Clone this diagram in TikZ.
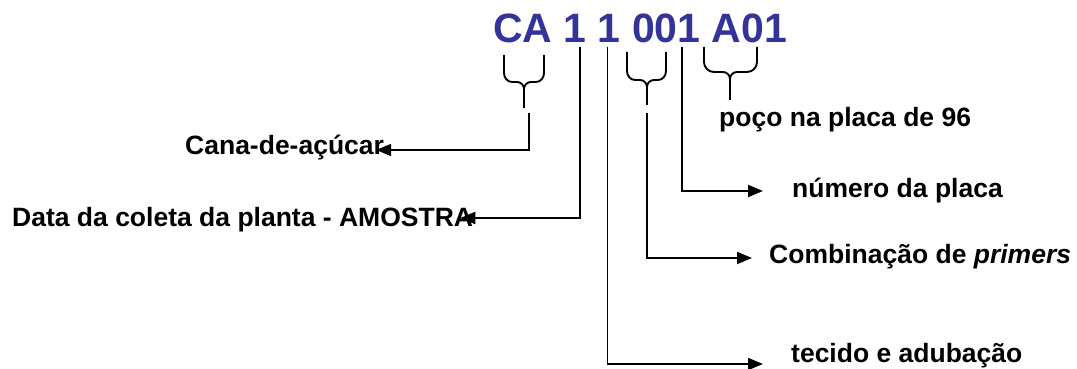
\documentclass[tikz,border=0pt]{standalone}
\usepackage{fontspec}
\setmainfont{Liberation Sans}
\usepackage{xcolor}
\usetikzlibrary{arrows.meta}
\definecolor{codeblue}{RGB}{51,51,153}

\begin{document}
\begin{tikzpicture}[
  x=1pt, y=-1pt,
  lbl/.style={anchor=base west, inner sep=0pt, font=\bfseries\fontsize{26.5}{31}\selectfont},
  brk/.style={line width=1.9pt},
  arrow/.style={-{Triangle[length=15pt,width=12pt]}, line width=1.9pt}
]
\useasboundingbox (0,0) rectangle (1077,369);

\node[anchor=base west, inner sep=0pt, text=codeblue, font=\bfseries\fontsize{41}{48}\selectfont] (code) at (493,42.5) {CA 1 1 001 A01};

\node[lbl] (cana) at (185,154) {Cana-de-açúcar};
\node[lbl] (data) at (12,226) {Data da coleta da planta - AMOSTRA};
\node[lbl] (poco) at (719,126) {poço na placa de 96};
\node[lbl] (numero) at (792,197) {número da placa};
\node[lbl] (comb) at (769,263) {Combinação de \textit{primers}};
\node[lbl] (tecido) at (791,362) {tecido e adubação};

% braces under the code
\draw[brk] (504,55) -- (504,73) to[out=-90,in=180] (512,82) -- (517,82) to[out=0,in=90] (524,89) -- (524,108)
           (544,55) -- (544,73) to[out=-90,in=0] (536,82) -- (531,82) to[out=180,in=90] (524,89);
\draw[brk] (627,52) -- (627,71) to[out=-90,in=180] (635,80) -- (640,80) to[out=0,in=90] (647,87) -- (647,105)
           (666,52) -- (666,71) to[out=-90,in=0] (658,80) -- (654,80) to[out=180,in=90] (647,87);
\draw[brk] (704,47) -- (704,62) to[out=-90,in=180] (714,72) -- (723,72) to[out=0,in=90] (730,79) -- (730,100)
           (757,47) -- (757,62) to[out=-90,in=0] (747,72) -- (737,72) to[out=180,in=90] (730,79);

\coordinate (cafoot) at (529,113);
\coordinate (combfoot) at (647,113);
\coordinate (datatop) at (580,47);
\coordinate (tecidotop) at (607.5,47);
\coordinate (numerotop) at (682,47);

\draw[arrow] (cafoot) |- ([xshift=-8pt,yshift=4pt]cana.base east);
\draw[arrow] (datatop) |- ([xshift=-13pt,yshift=8pt]data.base east);
\draw[arrow] (numerotop) |- ([xshift=-29pt,yshift=6pt]numero.base west);
\draw[arrow] (combfoot) |- ([xshift=-17pt,yshift=5pt]comb.base west);
\draw[arrow] (tecidotop) |- ([xshift=-28pt,yshift=-2pt]tecido.base west);
\end{tikzpicture}
\end{document}
